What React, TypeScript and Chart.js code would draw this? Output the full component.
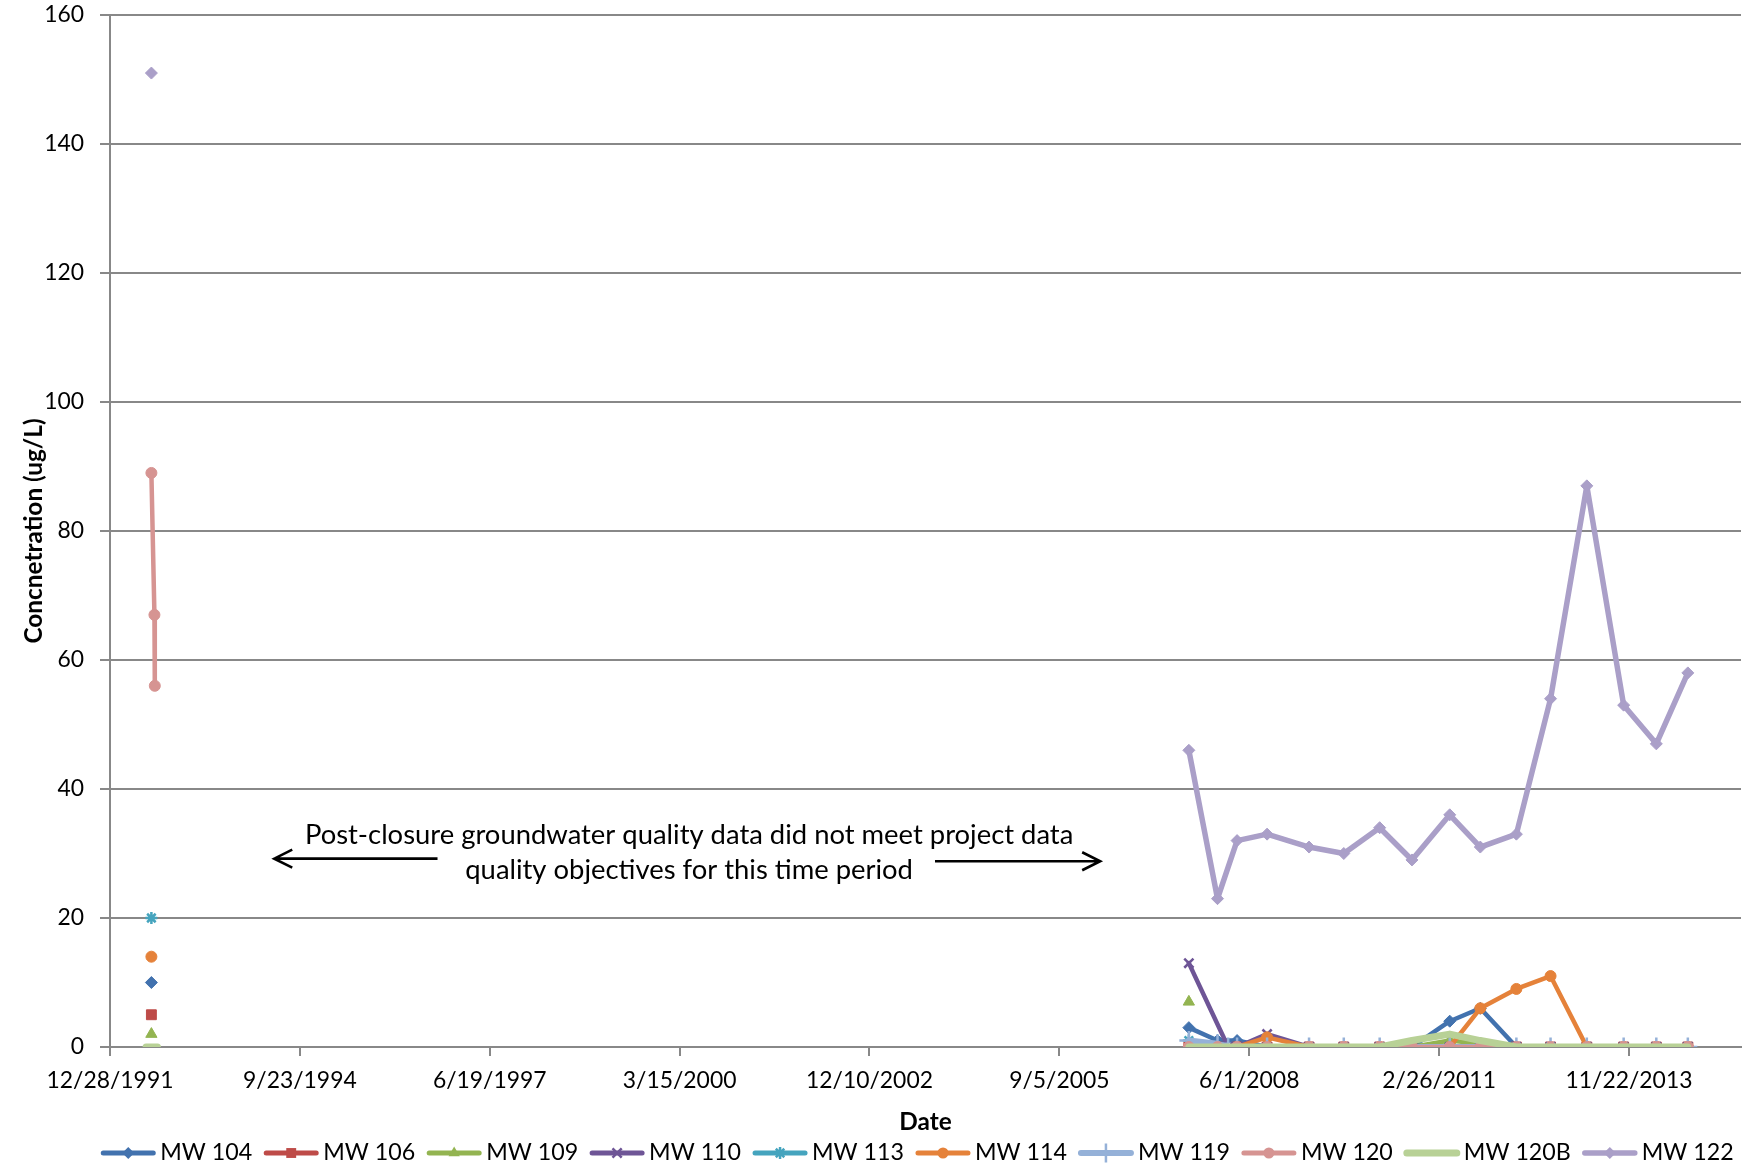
import React, { useEffect, useRef } from 'react';
import { Chart, registerables } from 'chart.js';

Chart.register(...registerables);

const FONT = 'Lato, "Open Sans", sans-serif';

// Sampling dates (ISO). null in a series = not sampled on that date.
const sampleDates = [
  '1992-07-05', '1992-08-02', '1992-08-18', '1992-08-20', '1992-09-03',
  '2007-07-19', '2007-12-17', '2008-02-11', '2008-03-29', '2008-09-03',
  '2009-04-12', '2009-10-12', '2010-04-19', '2010-10-06', '2011-04-23',
  '2011-10-01', '2012-04-08', '2012-10-05', '2013-04-14', '2013-10-25',
  '2014-04-15', '2014-09-28',
];

const MW104 = [null, 10, null, null, null, 3, 1, null, 1, 0, 0, 0, 0, 0, 4, 6, 0, 0, 0, 0, 0, 0];
const MW106 = [null, 5, null, null, null, 0, 0, null, 0, 0, 0, 0, 0, 0, 0, 0, 0, 0, 0, 0, 0, 0];
const MW109 = [null, 2, null, null, null, 7, null, null, null, null, null, null, null, 0, 1, 0.5, 0, 0, 0, 0, 0, 0];
const MW110 = [null, null, null, null, null, 13, null, 0, 0, 2, 0, 0, 0, 0, 0, 0, 0, 0, 0, 0, 0, 0];
const MW113 = [null, 20, null, null, null, 1, 0, null, 0, 0, 0, 0, 0, 0, 0, 0, 0, 0, 0, 0, 0, 0];
const MW114 = [null, 14, null, null, null, 0, 0, null, 0, 1.5, 0, 0, 0, 0, 0, 6, 9, 11, 0, 0, 0, 0];
const MW119 = [null, null, null, null, null, 1, 0.5, 0, 0, 0, 0, 0, 0, 0, 0, 0, 0, 0, 0, 0, 0, 0];
const MW120 = [null, 89, 67, 56, null, 0, 0, null, 0, 0, 0, 0, 0, 0, 0, 0, 0, 0, 0, 0, 0, 0];
const MW120B = [0, null, null, null, 0, 0, 0, 0, 0, 0, 0, 0, 0, 1, 2, 1, 0, 0, 0, 0, 0, 0];
const MW122 = [null, 151, null, null, null, 46, 23, null, 32, 33, 31, 30, 34, 29, 36, 31, 33, 54, 87, 53, 47, 58];

const seriesNames = ['MW 104', 'MW 106', 'MW 109', 'MW 110', 'MW 113', 'MW 114', 'MW 119', 'MW 120', 'MW 120B', 'MW 122'];
const seriesValues = [MW104, MW106, MW109, MW110, MW113, MW114, MW119, MW120, MW120B, MW122];
const seriesColors = ['#4272AE', '#BE4B48', '#93B451', '#6E5596', '#45A4BE', '#E5823A', '#95B1D8', '#D69492', '#B8D196', '#AA9FC8'];
const seriesMarkers: (string | null)[] = ['rectRot', 'rect', 'triangle', 'crossRot', 'star', 'circle', 'cross', 'circle', null, 'rectRot'];
const seriesLineWidths = [4.5, 4.5, 4.5, 4.5, 4.5, 4.5, 6, 4.5, 7, 5.5];
const seriesPointRadius = [6, 7, 6.5, 6.5, 6, 5.5, 9.5, 5.5, 0, 6];

// Axis: days counted from 12/28/1991
const axisOrigin = Date.UTC(1991, 11, 28);
const DAY = 86400000;
const xMaxDays = 8590;
const xTickDays = [0, 1000, 2000, 3000, 4000, 5000, 6000, 7000, 8000];
const yMax = 160;
const yStep = 20;

const yTitle = 'Concnetration (ug/L)';
const xTitle = 'Date';
const noteLines = [
  'Post-closure groundwater quality data did not meet project data',
  'quality objectives for this time period',
];
// note placement in data units (days, ug/L)
const noteCenterX = 3050;
const noteLineY = [32.9, 27.4];
const leftArrow = { from: 1725, to: 865, y: 29.2 };
const rightArrow = { from: 4345, to: 5215, y: 28.8 };

const toDays = (iso: string) => (Date.parse(iso) - axisOrigin) / DAY;
const fmtDate = (days: number) => {
  const d = new Date(axisOrigin + days * DAY);
  return `${d.getUTCMonth() + 1}/${d.getUTCDate()}/${d.getUTCFullYear()}`;
};

function fitSize(text: string, target: number, weight: string) {
  const c = document.createElement('canvas').getContext('2d')!;
  c.font = `${weight} 100px ${FONT}`;
  return (100 * target) / c.measureText(text).width;
}

function drawMarker(ctx: CanvasRenderingContext2D, style: string, x: number, y: number, r: number, color: string, lw: number) {
  ctx.save();
  ctx.fillStyle = color;
  ctx.strokeStyle = color;
  ctx.lineWidth = lw;
  ctx.beginPath();
  const d = r * Math.SQRT1_2;
  switch (style) {
    case 'circle':
      ctx.arc(x, y, r, 0, Math.PI * 2);
      ctx.fill();
      break;
    case 'rect':
      ctx.rect(x - d, y - d, 2 * d, 2 * d);
      ctx.fill();
      break;
    case 'rectRot':
      ctx.moveTo(x, y - r);
      ctx.lineTo(x + r, y);
      ctx.lineTo(x, y + r);
      ctx.lineTo(x - r, y);
      ctx.closePath();
      ctx.fill();
      break;
    case 'triangle': {
      let a = 0;
      ctx.moveTo(x + Math.sin(a) * r, y - Math.cos(a) * r);
      a += (2 * Math.PI) / 3;
      ctx.lineTo(x + Math.sin(a) * r, y - Math.cos(a) * r);
      a += (2 * Math.PI) / 3;
      ctx.lineTo(x + Math.sin(a) * r, y - Math.cos(a) * r);
      ctx.closePath();
      ctx.fill();
      break;
    }
    case 'cross':
      ctx.moveTo(x, y - r); ctx.lineTo(x, y + r);
      ctx.moveTo(x - r, y); ctx.lineTo(x + r, y);
      ctx.stroke();
      break;
    case 'crossRot':
      ctx.moveTo(x - d, y - d); ctx.lineTo(x + d, y + d);
      ctx.moveTo(x - d, y + d); ctx.lineTo(x + d, y - d);
      ctx.stroke();
      break;
    case 'star':
      ctx.moveTo(x, y - r); ctx.lineTo(x, y + r);
      ctx.moveTo(x - r, y); ctx.lineTo(x + r, y);
      ctx.moveTo(x - d, y - d); ctx.lineTo(x + d, y + d);
      ctx.moveTo(x - d, y + d); ctx.lineTo(x + d, y - d);
      ctx.stroke();
      break;
  }
  ctx.restore();
}

function drawArrow(ctx: CanvasRenderingContext2D, x1: number, x2: number, y: number) {
  const dir = Math.sign(x2 - x1);
  ctx.beginPath();
  ctx.moveTo(x1, y);
  ctx.lineTo(x2, y);
  ctx.moveTo(x2 - dir * 18, y - 9);
  ctx.lineTo(x2, y);
  ctx.lineTo(x2 - dir * 18, y + 9);
  ctx.stroke();
}

export default function App() {
  const ref = useRef<HTMLCanvasElement | null>(null);

  useEffect(() => {
    if (!ref.current) return;
    const tickSize = fitSize('12/28/1991', 127, 'normal');
    const legendSize = fitSize('MW 104', 92, 'normal');
    const noteSize = fitSize(noteLines[0], 769, 'normal');
    const titleSize = (fitSize(xTitle, 50, 'bold') + fitSize(yTitle, 236, 'bold')) / 2;

    const datasets = seriesNames.map((name, i) => {
      const marker = seriesMarkers[i];
      const stroked = marker === 'cross' || marker === 'crossRot' || marker === 'star';
      return {
        label: name,
        data: sampleDates
          .map((d, j) => ({ x: toDays(d), y: seriesValues[i][j] }))
          .filter((p) => p.y !== null),
        borderColor: seriesColors[i],
        backgroundColor: seriesColors[i],
        borderWidth: seriesLineWidths[i],
        borderCapStyle: 'round',
        borderJoinStyle: 'round',
        pointStyle: marker || 'circle',
        pointRadius: marker ? seriesPointRadius[i] : 0,
        pointBorderWidth: stroked ? 2.5 : 1,
        pointBackgroundColor: seriesColors[i],
        pointBorderColor: seriesColors[i],
        tension: 0,
        spanGaps: 1000,
        order: seriesNames.length - 1 - i,
      };
    });

    const overlay = {
      id: 'overlay',
      afterDraw(chart: any) {
        const ctx: CanvasRenderingContext2D = chart.ctx;
        const area = chart.chartArea;
        const xs = chart.scales.x;
        const ys = chart.scales.y;
        ctx.save();
        ctx.fillStyle = '#000';
        ctx.strokeStyle = '#000';
        // axis titles
        ctx.font = `bold ${titleSize}px ${FONT}`;
        ctx.textAlign = 'center';
        ctx.textBaseline = 'middle';
        ctx.fillText(xTitle, (area.left + area.right) / 2, 1122);
        ctx.save();
        ctx.translate(34, (area.top + area.bottom) / 2);
        ctx.rotate(-Math.PI / 2);
        ctx.fillText(yTitle, 0, 0);
        ctx.restore();

        // note
        ctx.font = `${noteSize}px ${FONT}`;
        const cx = xs.getPixelForValue(noteCenterX);
        noteLines.forEach((t, k) => ctx.fillText(t, cx, ys.getPixelForValue(noteLineY[k])));
        ctx.lineWidth = 2.6;
        ctx.lineCap = 'butt';
        ctx.lineJoin = 'miter';
        drawArrow(ctx, xs.getPixelForValue(leftArrow.from), xs.getPixelForValue(leftArrow.to), ys.getPixelForValue(leftArrow.y));
        drawArrow(ctx, xs.getPixelForValue(rightArrow.from), xs.getPixelForValue(rightArrow.to), ys.getPixelForValue(rightArrow.y));

        // legend
        ctx.font = `${legendSize}px ${FONT}`;
        ctx.textAlign = 'left';
        const lineLen = 54;
        const gapA = 5;
        const gapB = 12;
        const widths = seriesNames.map((n) => ctx.measureText(n).width);
        const total = widths.reduce((s, w) => s + lineLen + gapA + w, 0) + gapB * (seriesNames.length - 1);
        let x = 917.5 - total / 2;
        const ly = 1153;
        seriesNames.forEach((n, i) => {
          ctx.save();
          ctx.strokeStyle = seriesColors[i];
          ctx.lineWidth = Math.max(seriesLineWidths[i], 5);
          ctx.lineCap = 'round';
          ctx.beginPath();
          ctx.moveTo(x + 2, ly);
          ctx.lineTo(x + lineLen - 2, ly);
          ctx.stroke();
          ctx.restore();
          const m = seriesMarkers[i];
          if (m) {
            const stroked = m === 'cross' || m === 'crossRot' || m === 'star';
            drawMarker(ctx, m, x + lineLen / 2, ly, seriesPointRadius[i], seriesColors[i], stroked ? 2.5 : 1);
          }
          ctx.fillStyle = '#000';
          ctx.fillText(n, x + lineLen + gapA, ly);
          x += lineLen + gapA + widths[i] + gapB;
        });
        ctx.restore();
      },
    };

    const gridColor = '#888888';
    const chart = new Chart(ref.current, {
      type: 'line',
      data: { datasets: datasets as any },
      options: {
        animation: false,
        responsive: false,
        devicePixelRatio: 1,
        layout: { autoPadding: false, padding: { top: 15, right: 9, left: 0, bottom: 0 } },
        plugins: { legend: { display: false }, tooltip: { enabled: false } },
        events: [],
        scales: {
          x: {
            type: 'linear',
            min: 0,
            max: xMaxDays,
            afterFit: (s: any) => { s.height = 121; s.paddingLeft = 0; s.paddingRight = 0; },
            afterBuildTicks: (s: any) => { s.ticks = xTickDays.map((v) => ({ value: v })); },
            ticks: {
              autoSkip: false,
              maxRotation: 0,
              padding: 11,
              color: '#000',
              font: { family: FONT, size: tickSize },
              callback: (v: any) => fmtDate(Number(v)),
            },
            grid: { drawOnChartArea: false, drawTicks: true, tickLength: 9, color: gridColor, lineWidth: 2 },
            border: { display: true, color: gridColor, width: 2 },
          },
          y: {
            type: 'linear',
            min: 0,
            max: yMax,
            afterFit: (s: any) => { s.width = 110; s.paddingTop = 0; s.paddingBottom = 0; },
            ticks: {
              stepSize: yStep,
              padding: 16,
              color: '#000',
              font: { family: FONT, size: tickSize },
            },
            grid: { drawOnChartArea: true, drawTicks: true, tickLength: 10, color: gridColor, lineWidth: 2 },
            border: { display: true, color: gridColor, width: 2 },
          },
        },
      },
      plugins: [overlay],
    } as any);
    return () => chart.destroy();
  }, []);

  return (
    <div style={{ position: 'fixed', left: 0, top: 0, width: 1750, height: 1168, background: '#fff' }}>
      <canvas ref={ref} width={1750} height={1168} style={{ display: 'block' }} />
    </div>
  );
}
